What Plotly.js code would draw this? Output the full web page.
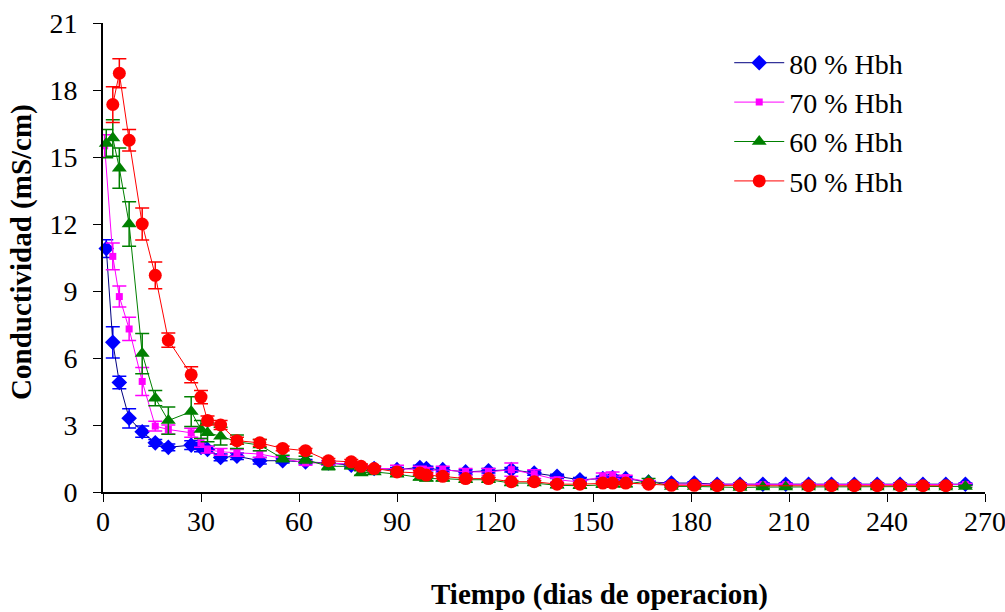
<!DOCTYPE html>
<html>
<head>
<meta charset="utf-8">
<script src="https://cdn.plot.ly/plotly-3.0.1.min.js"></script>
<style>html,body{margin:0;padding:0;background:#fff;}#chart{width:1005px;height:612px;}</style>
</head>
<body>
<div id="chart"></div>
<script>
// ---- data ----
const seriesNames = ["80 % Hbh", "70 % Hbh", "60 % Hbh", "50 % Hbh"];

const days80 = [1, 3, 5, 8, 12, 16, 20, 27, 30, 32, 36, 41, 48, 55, 62, 69, 76, 79, 83, 90, 97, 99, 104, 111, 118, 125, 132, 139, 146, 153, 156, 160, 167, 174, 181, 188, 195, 202, 209, 216, 223, 230, 237, 244, 251, 258, 264];
const cond80 = [10.9, 6.7, 4.9, 3.3, 2.7, 2.2, 2.0, 2.1, 2.0, 1.9, 1.55, 1.6, 1.4, 1.4, 1.35, 1.3, 1.2, 1.1, 1.05, 1.0, 1.1, 1.05, 1.0, 0.9, 0.95, 1.0, 0.85, 0.7, 0.55, 0.6, 0.65, 0.6, 0.45, 0.4, 0.4, 0.35, 0.35, 0.35, 0.35, 0.35, 0.35, 0.35, 0.35, 0.35, 0.35, 0.35, 0.35];
const err80 = [0.4, 0.7, 0.28, 0.43, 0.25, 0.15, 0.15, 0.2, 0.2, 0.15, 0.15, 0.15, 0.15, 0.1, 0.1, 0.1, 0.1, 0.1, 0.1, 0.1, 0.1, 0.1, 0.1, 0.1, 0.1, 0.1, 0.1, 0.1, 0.1, 0.1, 0.1, 0.1, 0.05, 0.05, 0.05, 0.05, 0.05, 0.05, 0.05, 0.05, 0.05, 0.05, 0.05, 0.05, 0.05, 0.05, 0.05];

const days70 = [0.5, 3, 5, 8, 12, 16, 20, 27, 30, 32, 36, 41, 48, 55, 62, 69, 76, 79, 83, 90, 97, 99, 104, 111, 118, 125, 132, 139, 146, 153, 156, 160, 167, 174, 181, 188, 195, 202, 209, 216, 223, 230, 237, 244, 251, 258, 264];
const cond70 = [15.5, 10.55, 8.75, 7.3, 4.95, 2.95, 2.8, 2.65, 2.2, 1.9, 1.8, 1.75, 1.7, 1.5, 1.3, 1.3, 1.25, 1.1, 1.05, 1.05, 1.0, 0.95, 1.0, 0.9, 0.9, 1.0, 0.8, 0.55, 0.45, 0.7, 0.75, 0.65, 0.45, 0.35, 0.35, 0.33, 0.33, 0.33, 0.33, 0.33, 0.33, 0.33, 0.33, 0.33, 0.33, 0.33, 0.33];
const err70 = [0.5, 0.6, 0.47, 0.52, 0.63, 0.22, 0.2, 0.2, 0.2, 0.15, 0.15, 0.15, 0.15, 0.1, 0.1, 0.1, 0.1, 0.1, 0.1, 0.15, 0.15, 0.15, 0.15, 0.15, 0.15, 0.3, 0.2, 0.1, 0.1, 0.15, 0.15, 0.1, 0.05, 0.05, 0.05, 0.05, 0.05, 0.05, 0.05, 0.05, 0.05, 0.05, 0.05, 0.05, 0.05, 0.05, 0.05];

const days60 = [1, 3, 5, 8, 12, 16, 20, 27, 30, 32, 36, 41, 48, 55, 62, 69, 76, 79, 83, 90, 97, 99, 104, 111, 118, 125, 132, 139, 146, 153, 156, 160, 167, 174, 181, 188, 195, 202, 209, 216, 223, 230, 237, 244, 251, 258, 264];
const cond60 = [15.6, 15.85, 14.5, 12.0, 6.2, 4.2, 3.2, 3.6, 2.8, 2.65, 2.5, 2.25, 2.1, 1.5, 1.45, 1.15, 1.15, 0.85, 0.9, 0.8, 0.65, 0.6, 0.6, 0.55, 0.55, 0.4, 0.4, 0.3, 0.28, 0.32, 0.35, 0.35, 0.5, 0.25, 0.25, 0.22, 0.2, 0.22, 0.22, 0.22, 0.22, 0.22, 0.22, 0.22, 0.22, 0.22, 0.25];
const err60 = [0.63, 0.82, 0.9, 1.0, 0.9, 0.34, 0.61, 0.67, 0.4, 0.4, 0.4, 0.3, 0.25, 0.15, 0.15, 0.15, 0.1, 0.1, 0.1, 0.1, 0.1, 0.1, 0.1, 0.1, 0.1, 0.1, 0.1, 0.1, 0.1, 0.1, 0.1, 0.1, 0.1, 0.05, 0.05, 0.05, 0.05, 0.05, 0.05, 0.05, 0.05, 0.05, 0.05, 0.05, 0.05, 0.05, 0.05];

const days50 = [3, 5, 8, 12, 16, 20, 27, 30, 32, 36, 41, 48, 55, 62, 69, 76, 79, 83, 90, 97, 99, 104, 111, 118, 125, 132, 139, 146, 153, 156, 160, 167, 174, 181, 188, 195, 216, 223, 230, 237, 244, 251, 258];
const cond50 = [17.35, 18.75, 15.75, 12.0, 9.7, 6.8, 5.25, 4.25, 3.2, 3.0, 2.3, 2.2, 1.95, 1.85, 1.4, 1.35, 1.15, 1.05, 0.9, 0.85, 0.76, 0.7, 0.6, 0.6, 0.46, 0.46, 0.35, 0.35, 0.4, 0.4, 0.4, 0.35, 0.3, 0.3, 0.28, 0.28, 0.28, 0.28, 0.28, 0.28, 0.28, 0.28, 0.28];
const err50 = [0.8, 0.65, 0.48, 0.72, 0.6, 0.32, 0.36, 0.3, 0.2, 0.2, 0.15, 0.15, 0.1, 0.1, 0.1, 0.1, 0.1, 0.1, 0.1, 0.1, 0.1, 0.1, 0.05, 0.05, 0.05, 0.05, 0.05, 0.05, 0.05, 0.05, 0.05, 0.05, 0.05, 0.05, 0.05, 0.05, 0.05, 0.05, 0.05, 0.05, 0.05, 0.05, 0.05];

const xTicks = [0, 30, 60, 90, 120, 150, 180, 210, 240, 270];
const yTicks = [0, 3, 6, 9, 12, 15, 18, 21];
const xTitle = "Tiempo (dias de operacion)";
const yTitle = "Conductividad (mS/cm)";

const FONT = '"Liberation Serif", "Times New Roman", Times, serif';
const TICK_FS = 28;
const LEG_FS = 28;
const TITLE_FS = 29;

function mk(name, x, y, e, lineColor, color, symbol, size) {
  return {
    type: "scatter", mode: "lines+markers", name: name, x: x, y: y,
    line: {color: lineColor, width: 1},
    marker: {color: color, symbol: symbol, size: size, line: {width: 0}},
    error_y: {type: "data", array: e, visible: true, color: color, thickness: 1.5, width: 7},
    cliponaxis: false
  };
}

const traces = [
  mk(seriesNames[0], days80, cond80, err80, "#000080", "#0000FF", "diamond", 12),
  mk(seriesNames[1], days70, cond70, err70, "#FF00FF", "#FF00FF", "square", 7),
  mk(seriesNames[2], days60, cond60, err60, "#008000", "#008000", "triangle-up", 13),
  mk(seriesNames[3], days50, cond50, err50, "#FF0000", "#FF0000", "circle", 13)
];

const layout = {
  width: 1005, height: 612,
  paper_bgcolor: "#fff", plot_bgcolor: "#fff",
  margin: {l: 103, r: 20, t: 23, b: 120},
  font: {family: FONT, size: TICK_FS, color: "#000"},
  showlegend: true,
  legend: {x: 0.71, y: 0.968, xanchor: "left", yanchor: "top",
           font: {family: FONT, size: LEG_FS, color: "#000"},
           itemwidth: 50, traceorder: "normal",
           bgcolor: "rgba(0,0,0,0)"},
  xaxis: {
    range: [0, 270], tickmode: "array", tickvals: xTicks, ticktext: xTicks.map(String),
    ticks: "outside", ticklen: 8, tickcolor: "#000", tickwidth: 1,
    showline: true, linecolor: "#000", linewidth: 2, showgrid: false, zeroline: false,
    tickfont: {family: FONT, size: TICK_FS, color: "#000"},
    ticklabelstandoff: -5, ticklabeloverflow: "allow",
    automargin: false
  },
  yaxis: {
    range: [0, 21], tickmode: "array", tickvals: yTicks, ticktext: yTicks.map(String),
    ticks: "outside", ticklen: 8, tickcolor: "#000", tickwidth: 1,
    showline: true, linecolor: "#000", linewidth: 2, showgrid: false, zeroline: false,
    tickfont: {family: FONT, size: TICK_FS, color: "#000"},
    ticklabelstandoff: 10, ticklabeloverflow: "allow",
    automargin: false
  },
  annotations: [
    {text: "<b>" + xTitle + "</b>", xref: "paper", yref: "paper", x: 0.5624, y: -0.2175,
     xanchor: "center", yanchor: "middle", showarrow: false,
     font: {family: FONT, size: TITLE_FS, color: "#000"}},
    {text: "<b>" + yTitle + "</b>", xref: "paper", yref: "paper", x: -0.0918, y: 0.512,
     xanchor: "center", yanchor: "middle", showarrow: false, textangle: -90,
     font: {family: FONT, size: TITLE_FS, color: "#000"}}
  ]
};

Plotly.newPlot("chart", traces, layout, {displayModeBar: false, staticPlot: true});
</script>
</body>
</html>
